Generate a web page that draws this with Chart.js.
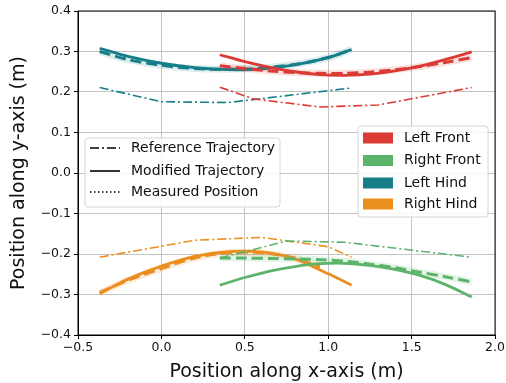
<!DOCTYPE html>
<html>
<head>
<meta charset="utf-8">
<script src="https://cdn.jsdelivr.net/npm/chart.js@4.4.0/dist/chart.umd.min.js"></script>
<style>
  html, body { margin: 0; padding: 0; background: #fff; }
  #wrap { width: 506px; height: 383px; }
</style>
</head>
<body>
<div id="wrap"><canvas id="chart" width="506" height="383"></canvas></div>
<script>
// legs and trajectory kinds
const legNames = ["Left Front", "Right Front", "Left Hind", "Right Hind"];
const legColors = ["#dc3a34", "#5cb46a", "#177e89", "#eb8f1f"];
const styleNames = ["Reference Trajectory", "Modified Trajectory", "Measured Position"];

const xTicks = [-0.5, 0.0, 0.5, 1.0, 1.5, 2.0];
const yTicks = [-0.4, -0.3, -0.2, -0.1, 0.0, 0.1, 0.2, 0.3, 0.4];

// Left Front
const lfRefX = [0.35, 0.55, 0.95, 1.3, 1.86];
const lfRefY = [0.212, 0.183, 0.163, 0.168, 0.211];
const lfModX = [0.35, 0.5, 0.65, 0.8, 0.95, 1.1, 1.25, 1.4, 1.55, 1.7, 1.86];
const lfModY = [0.292, 0.275, 0.261, 0.250, 0.243, 0.241, 0.244, 0.252, 0.264, 0.280, 0.299];
const lfMeasX = [0.35, 0.5, 0.65, 0.8, 0.95, 1.1, 1.25, 1.4, 1.55, 1.7, 1.86];
const lfMeasY = [0.265, 0.258, 0.252, 0.248, 0.246, 0.246, 0.249, 0.255, 0.263, 0.273, 0.285];

// Right Front
const rfRefX = [0.35, 0.75, 1.1, 1.86];
const rfRefY = [-0.210, -0.168, -0.171, -0.208];
const rfModX = [0.35, 0.5, 0.65, 0.8, 0.95, 1.1, 1.25, 1.4, 1.55, 1.7, 1.86];
const rfModY = [-0.277, -0.258, -0.242, -0.231, -0.224, -0.223, -0.228, -0.238, -0.253, -0.275, -0.306];
const rfMeasX = [0.35, 0.5, 0.65, 0.8, 0.95, 1.1, 1.25, 1.4, 1.55, 1.7, 1.86];
const rfMeasY = [-0.210, -0.210, -0.211, -0.212, -0.214, -0.218, -0.225, -0.234, -0.245, -0.256, -0.269];

// Left Hind
const lhRefX = [-0.37, 0.0, 0.4, 1.14];
const lhRefY = [0.211, 0.176, 0.174, 0.210];
const lhModX = [-0.37, -0.2, 0.0, 0.2, 0.4, 0.6, 0.8, 1.0, 1.14];
const lhModY = [0.308, 0.288, 0.271, 0.260, 0.255, 0.257, 0.267, 0.285, 0.305];
const lhMeasX = [-0.37, -0.2, 0.0, 0.2, 0.4, 0.6, 0.8, 1.0, 1.14];
const lhMeasY = [0.300, 0.280, 0.266, 0.258, 0.256, 0.259, 0.268, 0.285, 0.305];

// Right Hind
const rhRefX = [-0.37, 0.2, 0.6, 1.0, 1.14];
const rhRefY = [-0.208, -0.166, -0.159, -0.182, -0.208];
const rhModX = [-0.37, -0.2, 0.0, 0.2, 0.4, 0.6, 0.8, 1.0, 1.14];
const rhModY = [-0.298, -0.262, -0.230, -0.206, -0.194, -0.195, -0.212, -0.249, -0.277];
const rhMeasX = [-0.37, -0.2, 0.0, 0.2, 0.4, 0.6, 0.8, 0.95];
const rhMeasY = [-0.295, -0.265, -0.236, -0.210, -0.197, -0.197, -0.210, -0.232];

const legData = [
  { ref: [lfRefX, lfRefY], mod: [lfModX, lfModY], meas: [lfMeasX, lfMeasY] },
  { ref: [rfRefX, rfRefY], mod: [rfModX, rfModY], meas: [rfMeasX, rfMeasY] },
  { ref: [lhRefX, lhRefY], mod: [lhModX, lhModY], meas: [lhMeasX, lhMeasY] },
  { ref: [rhRefX, rhRefY], mod: [rhModX, rhModY], meas: [rhMeasX, rhMeasY] },
];

const toPts = (xs, ys) => xs.map((x, i) => ({ x: x, y: ys[i] }));

function fade(hex, a) {
  const n = parseInt(hex.slice(1), 16);
  return `rgba(${(n >> 16) & 255},${(n >> 8) & 255},${n & 255},${a})`;
}

const DASHDOT = [9, 3, 2, 3];
const datasets = [];
legData.forEach((leg, i) => {
  const c = legColors[i];
  datasets.push({ data: toPts(...leg.ref), borderColor: c, borderWidth: 1.6, borderDash: DASHDOT, tension: 0 });
  datasets.push({ data: toPts(...leg.meas), borderColor: fade(c, 0.15), borderWidth: 7, tension: 0.3 });
  datasets.push({ data: toPts(...leg.meas), borderColor: c, borderWidth: 3, borderDash: [11, 5], tension: 0.3 });
  datasets.push({ data: toPts(...leg.mod), borderColor: c, borderWidth: 2.8, tension: 0.3 });
});
datasets.forEach(d => { d.showLine = true; d.pointRadius = 0; d.fill = false; });

const fmt = v => v.toFixed(1).replace("-", "\u2212");
const FONT = "'DejaVu Sans', sans-serif";
const INK = "#111";

const decor = {
  id: "decor",
  afterDraw(chart) {
    const ctx = chart.ctx;
    const a = chart.chartArea;
    ctx.save();
    ctx.strokeStyle = "#000";
    ctx.lineWidth = 1;
    ctx.strokeRect(a.left, a.top, a.right - a.left, a.bottom - a.top);

    const box = (x, y, w, h) => {
      ctx.beginPath();
      ctx.roundRect(x, y, w, h, 3);
      ctx.fillStyle = "rgba(255,255,255,0.85)";
      ctx.fill();
      ctx.strokeStyle = "#d6d6d6";
      ctx.lineWidth = 1;
      ctx.stroke();
    };
    // line style legend
    box(85, 138, 195, 69);
    const dashes = [DASHDOT, [], [1.5, 2.5]];
    const rows1 = [148, 171, 192];
    ctx.font = "14px " + FONT;
    ctx.textBaseline = "middle";
    styleNames.forEach((s, i) => {
      ctx.beginPath();
      ctx.setLineDash(dashes[i]);
      ctx.strokeStyle = "#000";
      ctx.lineWidth = 1.6;
      ctx.moveTo(90, rows1[i]);
      ctx.lineTo(120, rows1[i]);
      ctx.stroke();
      ctx.setLineDash([]);
      ctx.fillStyle = INK;
      ctx.fillText(s, 131, rows1[i]);
    });

    // leg colour legend
    box(358, 126, 130, 91);
    const rows2 = [138, 160.5, 183, 204];
    legNames.forEach((s, i) => {
      ctx.fillStyle = legColors[i];
      ctx.fillRect(363, rows2[i] - 5.5, 30, 11);
      ctx.fillStyle = INK;
      ctx.fillText(s, 404, rows2[i]);
    });
    ctx.restore();
  }
};

new Chart(document.getElementById("chart"), {
  type: "scatter",
  data: { datasets: datasets },
  plugins: [decor],
  options: {
    responsive: false,
    animation: false,
    layout: { padding: { top: 11, right: 10, left: 0, bottom: 0 } },
    plugins: { legend: { display: false }, tooltip: { enabled: false } },
    scales: {
      x: {
        type: "linear", min: -0.5, max: 2.0,
        afterFit: s => { s.height = 48; },
        afterBuildTicks: s => { s.ticks = xTicks.map(v => ({ value: v })); },
        grid: { color: "#c4c4c4", tickColor: "#000", tickLength: 4 },
        border: { color: "#000" },
        ticks: { color: INK, font: { family: FONT, size: 12.5 }, padding: 1, callback: fmt },
        title: { display: true, text: "Position along x-axis (m)", color: INK,
                 font: { family: FONT, size: 19 }, padding: { top: 0, bottom: 0 } }
      },
      y: {
        type: "linear", min: -0.4, max: 0.4,
        afterFit: s => { s.width = 78; },
        afterBuildTicks: s => { s.ticks = yTicks.map(v => ({ value: v })); },
        grid: { color: "#c4c4c4", tickColor: "#000", tickLength: 4 },
        border: { color: "#000" },
        ticks: { color: INK, font: { family: FONT, size: 12.5 }, padding: 3, callback: fmt },
        title: { display: true, text: "Position along y-axis (m)", color: INK,
                 font: { family: FONT, size: 19 }, padding: { top: 8, bottom: 0 } }
      }
    }
  }
});
</script>
</body>
</html>
